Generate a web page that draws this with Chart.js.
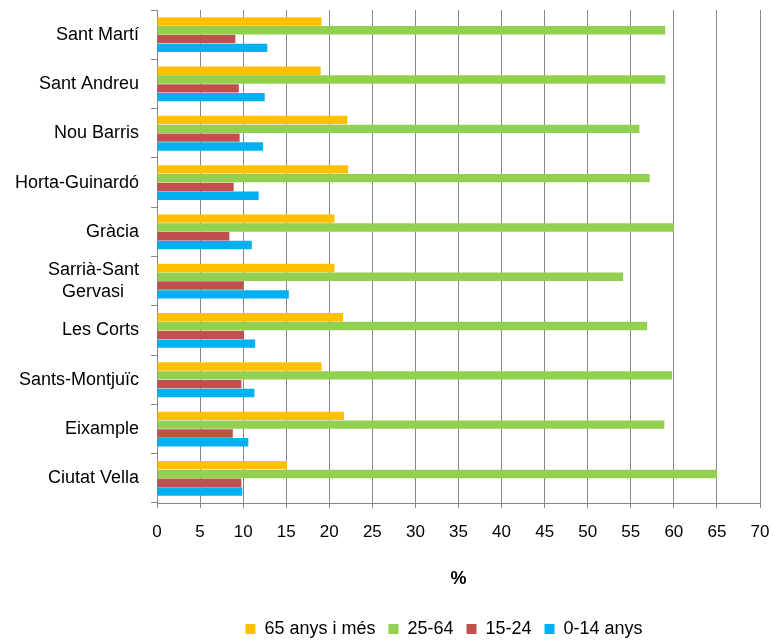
<!DOCTYPE html>
<html>
<head>
<meta charset="utf-8">
<script src="https://cdn.jsdelivr.net/npm/chart.js@4"></script>
<style>
  html, body { margin: 0; padding: 0; background: #fff; }
  #wrap { width: 773px; height: 641px; }
</style>
</head>
<body>
<div id="wrap"><canvas id="chart" width="773" height="641"></canvas></div>
<script>
// districts, top to bottom
const districts = ['Sant Martí', 'Sant Andreu', 'Nou Barris', 'Horta-Guinardó', 'Gràcia',
    ['Sarrià-Sant', 'Gervasi   '], 'Les Corts', 'Sants-Montjuïc', 'Eixample', 'Ciutat Vella'];

const seriesNames = ['65 anys i més', '25-64', '15-24', '0-14 anys'];
const seriesColors = ['#FFC000', '#92D050', '#C0504D', '#00B0F0'];

// % of population per age group
const age65plus = [19.1, 19.0, 22.1, 22.2, 20.6, 20.6, 21.6, 19.1, 21.7, 15.1];
const age25to64 = [59.0, 59.0, 56.0, 57.2, 60.0, 54.1, 56.9, 59.8, 58.9, 65.0];
const age15to24 = [9.1, 9.5, 9.6, 8.9, 8.4, 10.0, 10.1, 9.8, 8.8, 9.8];
const age0to14 = [12.8, 12.5, 12.3, 11.8, 11.0, 15.3, 11.4, 11.3, 10.6, 9.9];

const xMin = 0, xMax = 70, xStep = 5;
const xTitle = '%';

const FONT = '"Liberation Sans", Arial, sans-serif';
const GRID = '#878787';

// nudge legend to where the original sits
const legendShift = {
    id: 'legendShift',
    afterLayout(chart) {
        const lg = chart.legend;
        if (!lg) return;
        lg.left += 64; lg.right += 64;
        lg.top += 7; lg.bottom += 7;
    }
};

const values = [age65plus, age25to64, age15to24, age0to14];

new Chart(document.getElementById('chart'), {
    type: 'bar',
    data: {
        labels: districts,
        datasets: values.map((v, i) => ({
            label: seriesNames[i],
            data: v,
            backgroundColor: seriesColors[i],
            borderWidth: 0,
            barPercentage: 0.95,
            categoryPercentage: 0.714
        }))
    },
    options: {
        indexAxis: 'y',
        responsive: false,
        animation: false,
        layout: { padding: { top: 10, right: 13, left: 0, bottom: 0 } },
        scales: {
            x: {
                min: xMin, max: xMax,
                ticks: { stepSize: xStep, color: '#000', font: { family: FONT, size: 17 }, padding: 14 },
                grid: { color: GRID, tickLength: 5, lineWidth: 1 },
                border: { color: GRID },
                title: { display: true, text: xTitle, color: '#000', font: { family: FONT, size: 18, weight: 'bold' }, padding: { top: 0, bottom: 10 } },
                afterFit(scale) {
                    scale.height = 138 - scale.chart.legend.height;
                    scale.paddingLeft = 0;
                    scale.paddingRight = 0;
                }
            },
            y: {
                ticks: { color: '#000', font: { family: FONT, size: 18 }, padding: 12 },
                grid: { drawOnChartArea: false, color: GRID, tickLength: 6, offset: true },
                border: { color: GRID },
                afterFit(scale) {
                    scale.width = 157;
                    scale.paddingTop = 0;
                    scale.paddingBottom = 0;
                }
            }
        },
        plugins: {
            legend: {
                position: 'bottom',
                labels: { boxWidth: 10, boxHeight: 10, padding: 13, color: '#000', font: { family: FONT, size: 18 } }
            },
            tooltip: { enabled: false }
        }
    },
    plugins: [legendShift]
});
</script>
</body>
</html>
